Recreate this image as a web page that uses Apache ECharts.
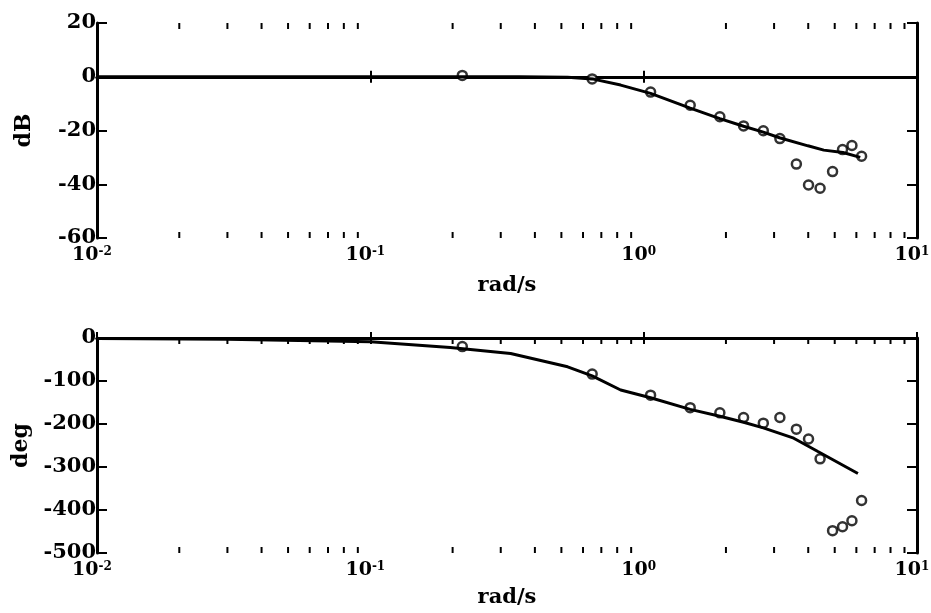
<!DOCTYPE html>
<html>
<head>
<meta charset="utf-8">
<script src="https://cdn.jsdelivr.net/npm/echarts@6/dist/echarts.min.js"></script>
<style>
  html, body { margin: 0; padding: 0; background: #fff; }
  #chart { width: 931px; height: 613px; }
</style>
</head>
<body>
<div id="chart"></div>
<script>
// Measured frequency response samples (rad/s)
const measFreq = [0.217, 0.648, 1.06, 1.48, 1.90, 2.32, 2.74, 3.15, 3.62, 4.01, 4.42, 4.91, 5.34, 5.78, 6.27];
const measMag = [0.5, -0.8, -5.7, -10.6, -14.9, -18.3, -20.1, -23.0, -32.5, -40.3, -41.5, -35.3, -27.1, -25.6, -29.6];
const measPhase = [-20, -84, -133, -162, -174, -185, -198, -185, -212, -235, -281, -448, -439, -425, -378];

// Model response (solid curves)
const magFitFreq = [0.01, 0.03, 0.1, 0.2, 0.35, 0.527, 0.648, 0.824, 1.06, 1.48, 1.90, 2.32, 2.74, 3.14, 3.99, 4.56, 5.36, 6.20];
const magFit = [0, 0, 0, 0, 0, -0.2, -0.8, -3.1, -6.2, -11.7, -15.6, -18.4, -20.6, -22.7, -25.7, -27.3, -28.2, -30.0];
const phaseFitFreq = [0.01, 0.03, 0.1, 0.196, 0.326, 0.527, 0.648, 0.824, 1.06, 1.48, 1.90, 2.32, 2.74, 3.54, 4.34, 6.08];
const phaseFit = [-1, -3, -9, -22, -36, -67, -88, -121, -139, -166, -182, -196, -209, -233, -264, -315];

// Axis settings
const freqMin = 0.01, freqMax = 10;
const magTicks = { min: -60, max: 20, interval: 20 };
const phaseTicks = { min: -500, max: 0, interval: 100 };

// Minor tick positions on the log axis (2..9 within each decade)
const minorFreqs = [];
for (let e = -2; e < 1; e++) {
  for (let m = 2; m <= 9; m++) minorFreqs.push(m * Math.pow(10, e));
}

const FONT = 'DejaVu Serif';
const INK = '#000';

const pairs = (xs, ys) => xs.map((x, i) => [x, ys[i]]);

function logAxis(gridIndex, position, showLabels, nameText, nameGap) {
  return {
    type: 'log', logBase: 10, gridIndex, position,
    min: freqMin, max: freqMax,
    name: nameText, nameLocation: 'middle', nameGap,
    nameTextStyle: { fontFamily: FONT, fontWeight: 'bold', fontSize: 21, color: INK },
    axisLine: { show: true, lineStyle: { color: INK, width: 3 } },
    axisTick: { show: true, inside: true, length: 6, lineStyle: { color: INK, width: 2 } },
    splitLine: { show: false },
    axisLabel: {
      show: showLabels, margin: 8,
      // power-of-ten label: "10" with a raised exponent
      formatter: v => '{b|10}{s|' + Math.round(Math.log10(v)) + '}',
      rich: {
        b: { fontFamily: FONT, fontWeight: 'bold', fontSize: 19, color: INK },
        s: { fontFamily: FONT, fontWeight: 'bold', fontSize: 12, color: INK,
             verticalAlign: 'top', padding: [0, 10, 0, 0] }
      }
    }
  };
}

function valAxis(gridIndex, position, ticks, showLabels, nameText) {
  return {
    type: 'value', gridIndex, position,
    min: ticks.min, max: ticks.max, interval: ticks.interval,
    name: nameText, nameLocation: 'middle', nameGap: 62,
    nameTextStyle: { fontFamily: FONT, fontWeight: 'bold', fontSize: 22, color: INK },
    axisLine: { show: true, lineStyle: { color: INK, width: 3 } },
    axisTick: { show: true, inside: true, length: 10, lineStyle: { color: INK, width: 2 } },
    splitLine: { show: false },
    axisLabel: {
      show: showLabels, margin: 1,
      fontFamily: FONT, fontWeight: 'bold', fontSize: 21, color: INK
    }
  };
}

function minorTickSeries(xAxisIndex, yAxisIndex) {
  return {
    type: 'custom', xAxisIndex, yAxisIndex, silent: true, clip: false,
    data: minorFreqs.map(f => [f, 0]),
    renderItem(params, api) {
      const cs = params.coordSys;
      const x = api.coord([api.value(0), 0])[0];
      const st = { stroke: INK, lineWidth: 2 };
      return {
        type: 'group',
        children: [
          { type: 'line', shape: { x1: x, y1: cs.y + cs.height, x2: x, y2: cs.y + cs.height - 6 }, style: st },
          { type: 'line', shape: { x1: x, y1: cs.y, x2: x, y2: cs.y + 6 }, style: st }
        ]
      };
    }
  };
}

function fitLine(xAxisIndex, yAxisIndex, xs, ys) {
  return {
    type: 'line', xAxisIndex, yAxisIndex, data: pairs(xs, ys),
    showSymbol: false, smooth: false,
    lineStyle: { color: INK, width: 3 }
  };
}

function measPoints(xAxisIndex, yAxisIndex, xs, ys) {
  return {
    type: 'scatter', xAxisIndex, yAxisIndex, data: pairs(xs, ys),
    symbol: 'circle', symbolSize: 9,
    itemStyle: { color: '#fff', borderColor: INK, borderWidth: 2.5 }
  };
}

const chart = echarts.init(document.getElementById('chart'), null, { renderer: 'canvas' });
chart.setOption({
  animation: false,
  backgroundColor: '#fff',
  grid: [
    { left: 97, top: 23, width: 820, height: 215, containLabel: false, outerBoundsMode: 'none' },
    { left: 97, top: 338, width: 820, height: 215, containLabel: false, outerBoundsMode: 'none' }
  ],
  xAxis: [
    logAxis(0, 'bottom', true, 'rad/s', 37),
    logAxis(0, 'top', false, '', 0),
    logAxis(1, 'bottom', true, 'rad/s', 34),
    logAxis(1, 'top', false, '', 0)
  ],
  yAxis: [
    valAxis(0, 'left', magTicks, true, 'dB'),
    valAxis(0, 'right', magTicks, false, ''),
    valAxis(1, 'left', phaseTicks, true, 'deg'),
    valAxis(1, 'right', phaseTicks, false, '')
  ],
  series: [
    minorTickSeries(0, 0),
    minorTickSeries(2, 2),
    fitLine(0, 0, magFitFreq, magFit),
    measPoints(0, 0, measFreq, measMag),
    fitLine(2, 2, phaseFitFreq, phaseFit),
    measPoints(2, 2, measFreq, measPhase)
  ]
});
</script>
</body>
</html>
